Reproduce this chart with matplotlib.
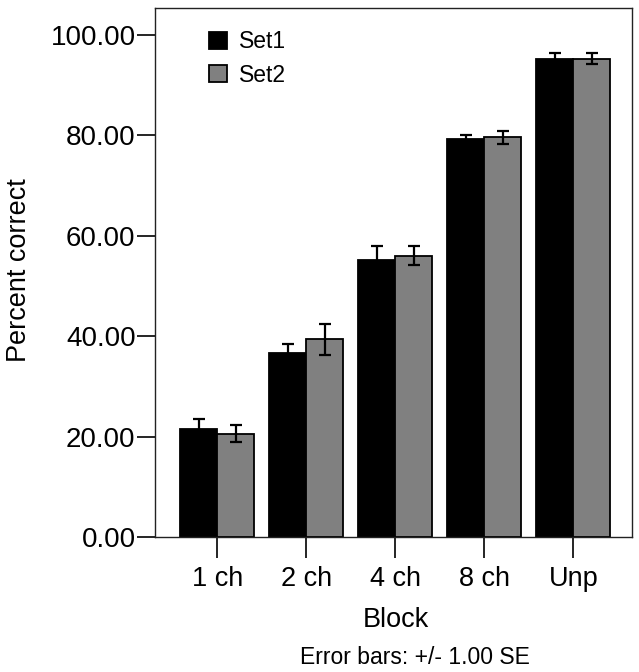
import matplotlib
matplotlib.use("Agg")
import matplotlib.pyplot as plt
import numpy as np

plt.rcParams['font.family'] = ['Liberation Sans', 'DejaVu Sans']

categories = ["1 ch", "2 ch", "4 ch", "8 ch", "Unp"]
set1 = [21.6, 36.6, 55.2, 79.2, 95.2]
set1_se = [1.85, 1.8, 2.8, 0.8, 1.2]
set2 = [20.6, 39.4, 56.0, 79.6, 95.3]
set2_se = [1.7, 3.1, 1.9, 1.3, 1.15]
yticks = [0, 20, 40, 60, 80, 100]

W, H = 639, 672
fig = plt.figure(figsize=(W / 100, H / 100), dpi=100)
ax = fig.add_axes([155 / W, (H - 537) / H, 477 / W, 529 / H])

x = np.arange(len(categories))
bw = 0.415
err_kw = dict(ecolor='black', elinewidth=1.6, capsize=4, capthick=1.6)
ax.bar(x - bw / 2, set1, bw, yerr=set1_se, color='black', edgecolor='black',
       linewidth=1.3, error_kw=err_kw, label='Set1', zorder=2)
ax.bar(x + bw / 2, set2, bw, yerr=set2_se, color='#808080', edgecolor='black',
       linewidth=1.3, error_kw=err_kw, label='Set2', zorder=2)

ax.set_xlim(-0.70, 4.66)
ax.set_ylim(0, 105.4)
ax.set_xticks(x)
ax.set_xticklabels(categories)
ax.set_yticks(yticks)
ax.set_yticklabels([f"{v:.2f}" for v in yticks])
ax.tick_params(axis='y', direction='out', length=13, width=1.2, labelsize=20, pad=1)
ax.tick_params(axis='x', direction='out', length=15, width=1.2, labelsize=19.5, pad=6)
for s in ax.spines.values():
    s.set_linewidth(1.0)
    s.set_color('#222222')

fig.text(19 / W, 1 - 270 / H, "Percent correct", ha='center', va='center',
         rotation=90, fontsize=19.5)
fig.text(396 / W, 1 - 620 / H, "Block", ha='center', va='center', fontsize=19.5)
fig.text(415 / W, 1 - 657 / H, "Error bars: +/- 1.00 SE", ha='center', va='center', fontsize=16.5)

leg = ax.legend(loc='upper left', bbox_to_anchor=(0.095, 0.975), frameon=False,
                fontsize=16.5, handlelength=0.75, handleheight=0.75,
                handletextpad=0.55, labelspacing=0.45, borderaxespad=0)

fig.savefig("out.png", dpi=100)
